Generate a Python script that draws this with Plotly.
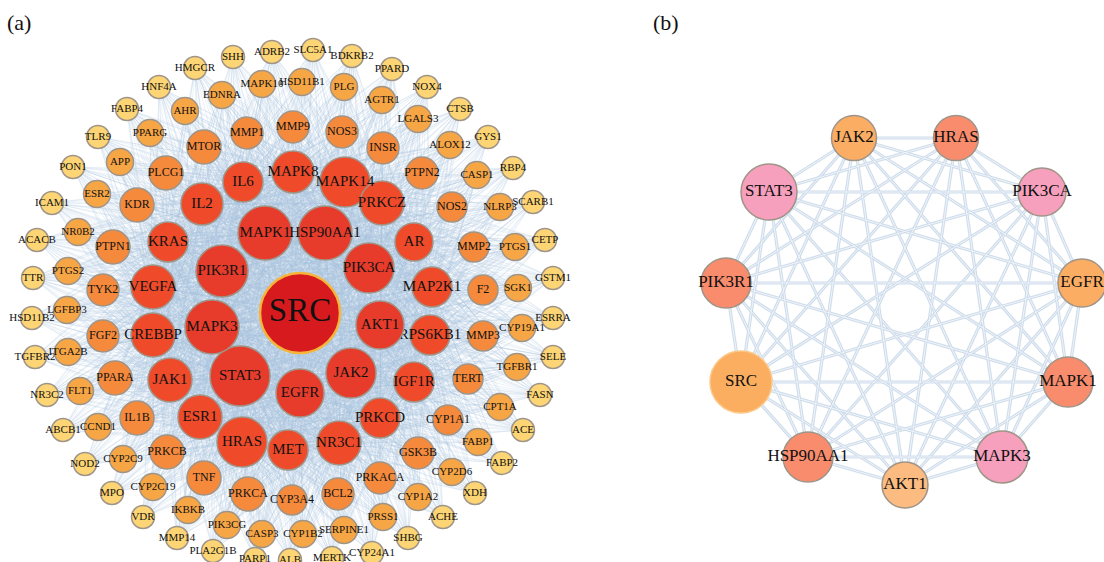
import itertools
import plotly.graph_objects as go

# ---------------- Panel (a) data: node name, layout x, layout y, node score ----------------
ring0_names = ["SRC"]
ring0_x = [300]
ring0_y = [313]
ring0_score = [80]

ring1_names = ["MAPK1", "HSP90AA1", "PIK3CA", "AKT1", "JAK2", "EGFR", "STAT3", "MAPK3", "PIK3R1"]
ring1_x = [265, 325, 369, 380, 351, 300, 240, 212, 222]
ring1_y = [233, 233, 268, 325, 373, 393, 376, 327, 271]
ring1_score = [54, 54, 50, 48, 50, 48, 60, 54, 52]

ring2_names = ["IL6", "MAPK8", "MAPK14", "PRKCZ", "AR", "MAP2K1", "RPS6KB1", "IGF1R", "PRKCD",
               "NR3C1", "MET", "HRAS", "ESR1", "JAK1", "CREBBP", "VEGFA", "KRAS", "IL2"]
ring2_x = [243, 293, 345, 382, 414, 432, 430, 414, 380, 339, 288, 242, 200, 170, 153, 153, 168, 202]
ring2_y = [182, 172, 182, 203, 242, 287, 335, 382, 418, 443, 450, 442, 417, 380, 335, 287, 242, 204]
ring2_score = [40, 42, 50, 44, 38, 40, 40, 40, 40, 44, 40, 50, 44, 44, 44, 44, 40, 42]

ring3_names = ["MTOR", "MMP1", "MMP9", "NOS3", "INSR", "PTPN2", "NOS2", "MMP2", "F2", "MMP3", "TERT",
               "CYP1A1", "GSK3B", "PRKACA", "BCL2", "CYP3A4", "PRKCA", "TNF", "PRKCB", "IL1B",
               "PPARA", "FGF2", "TYK2", "PTPN1", "KDR", "PLCG1"]
ring3_x = [204, 247, 293, 342, 383, 422, 452, 474, 483, 483, 468, 448, 418, 380, 338, 292, 248, 204,
           167, 137, 115, 103, 103, 113, 137, 166]
ring3_y = [147, 133, 127, 132, 148, 173, 207, 247, 290, 336, 379, 420, 453, 478, 494, 500, 494, 478,
           452, 418, 378, 336, 290, 247, 205, 173]
ring3_score = [34, 32, 32, 32, 32, 32, 30, 30, 30, 30, 30, 30, 32, 32, 32, 30, 34, 34, 34, 34, 34, 32,
               32, 34, 34, 34]

ring4_names = ["AHR", "EDNRA", "MAPK10", "HSD11B1", "PLG", "AGTR1", "LGALS3", "ALOX12", "CASP1",
               "NLRP3", "PTGS1", "SGK1", "CYP19A1", "TGFBR1", "CPT1A", "FABP1", "CYP2D6", "CYP1A2",
               "PRSS1", "SERPINE1", "CYP1B2", "CASP3", "PIK3CG", "IKBKB", "CYP2C19", "CYP2C9",
               "CCND1", "FLT1", "ITGA2B", "LGFBP3", "PTGS2", "NR0B2", "ESR2", "APP", "PPARG"]
ring4_x = [185, 222, 262, 302, 344, 382, 418, 450, 477, 500, 515, 518, 522, 517, 500, 478, 452, 418,
           383, 344, 303, 262, 227, 188, 153, 123, 98, 80, 68, 67, 68, 78, 97, 120, 150]
ring4_y = [111, 95, 84, 82, 87, 100, 119, 145, 175, 207, 247, 288, 328, 367, 407, 442, 472, 497,
           517, 530, 534, 534, 525, 510, 487, 459, 427, 391, 352, 310, 271, 232, 194, 162, 133]
ring4_score = [27] * len(ring4_names)

ring5_names = ["SHH", "ADRB2", "SLC5A1", "BDKRB2", "PPARD", "NOX4", "CTSB", "GYS1", "RBP4", "SCARB1",
               "CETP", "GSTM1", "ESRRA", "SELE", "FASN", "ACE", "FABP2", "XDH", "ACHE", "SHBG",
               "CYP24A1", "MERTK", "ALB", "PARP1", "PLA2G1B", "MMP14", "VDR", "MPO", "NOD2", "ABCB1",
               "NR3C2", "TGFBR2", "HSD11B2", "TTR", "ACACB", "ICAM1", "PON1", "TLR9", "FABP4",
               "HNF4A", "HMGCR"]
ring5_x = [233, 272, 313, 352, 392, 427, 460, 488, 513, 533, 545, 553, 553, 553, 540, 523, 502, 475,
           443, 408, 372, 332, 290, 255, 213, 177, 143, 112, 85, 63, 47, 35, 32, 33, 37, 52, 73, 98,
           127, 159, 195]
ring5_y = [57, 52, 50, 56, 69, 87, 109, 137, 168, 202, 240, 278, 318, 357, 395, 430, 463, 493, 517,
           538, 553, 558, 560, 559, 551, 538, 517, 493, 464, 430, 395, 357, 318, 278, 240, 203, 167,
           137, 109, 87, 68]
ring5_score = [23] * len(ring5_names)

# ---------------- Panel (b) data ----------------
b_names = ["JAK2", "HRAS", "PIK3CA", "EGFR", "MAPK1", "MAPK3", "AKT1", "HSP90AA1", "SRC", "PIK3R1", "STAT3"]
b_x = [854, 956, 1042, 1082, 1068, 1002, 905, 808, 741, 726, 769]
b_y = [138, 138, 192, 283, 382, 457, 485, 457, 382, 283, 192]
b_score = [45, 45, 48, 48, 50, 52, 46, 50, 62, 50, 56]
b_group = ["orange", "salmon", "pink", "orange", "salmon", "pink", "light", "salmon", "src", "salmon", "pink"]

# ---------------- styles ----------------
ring_colors = ["#d71a1d", "#e73c2c", "#ef4b2b", "#f58a3c", "#f7a646", "#fdd574"]
ring_fonts = [33, 15, 15, 12, 11, 11]
border_col = "#9f9488"
serif = "Liberation Serif"
b_colors = {"orange": "#fbad64", "salmon": "#f98c6c", "pink": "#f7a0bd", "light": "#fcbb80", "src": "#fbae60"}

rings = [
    (ring0_names, ring0_x, ring0_y, ring0_score),
    (ring1_names, ring1_x, ring1_y, ring1_score),
    (ring2_names, ring2_x, ring2_y, ring2_score),
    (ring3_names, ring3_x, ring3_y, ring3_score),
    (ring4_names, ring4_x, ring4_y, ring4_score),
    (ring5_names, ring5_x, ring5_y, ring5_score),
]

fig = go.Figure()

# ---- panel (a) edges: every node linked to the hub nodes (rings 0-2) ----
hubs, others = [], []
for i, (n, xs, ys, s) in enumerate(rings):
    for k in range(len(n)):
        (hubs if i <= 2 else others).append((xs[k], ys[k]))
ex, ey = [], []
for (x0, y0) in others:
    for (x1, y1) in hubs:
        ex += [x0, x1, None]
        ey += [y0, y1, None]
for (a, b) in itertools.combinations(hubs, 2):
    ex += [a[0], b[0], None]
    ey += [a[1], b[1], None]
fig.add_trace(go.Scatter(x=ex, y=ey, mode="lines", hoverinfo="skip",
                         line=dict(color="rgba(168,194,224,0.22)", width=1)))

# ---- panel (a) nodes, outer rings first ----
for i in range(len(rings) - 1, -1, -1):
    n, xs, ys, s = rings[i]
    fig.add_trace(go.Scatter(
        x=xs, y=ys, mode="markers+text", text=n, textposition="middle center",
        textfont=dict(family=serif, size=ring_fonts[i], color="#111111"),
        marker=dict(size=s, color=ring_colors[i], opacity=1,
                    line=dict(color="#f6b53a" if i == 0 else border_col, width=2.5 if i == 0 else 1.5)),
        hoverinfo="text", cliponaxis=False))

# ---- panel (b) edges: complete graph, doubled thin lines ----
bx, by = [], []
for i, j in itertools.combinations(range(len(b_names)), 2):
    bx += [b_x[i], b_x[j], None]
    by += [b_y[i], b_y[j], None]
fig.add_trace(go.Scatter(x=bx, y=by, mode="lines", hoverinfo="skip",
                         line=dict(color="rgba(200,215,232,0.85)", width=3.2)))
fig.add_trace(go.Scatter(x=bx, y=by, mode="lines", hoverinfo="skip",
                         line=dict(color="rgba(242,246,251,0.9)", width=1.0)))

fig.add_trace(go.Scatter(
    x=b_x, y=b_y, mode="markers+text", text=b_names, textposition="middle center",
    textfont=dict(family=serif, size=17, color="#111111"),
    marker=dict(size=b_score, color=[b_colors[g] for g in b_group], opacity=1,
                line=dict(color=["#fbc98a" if g == "src" else border_col for g in b_group], width=1.5)),
    hoverinfo="text", cliponaxis=False))

fig.add_annotation(text="(a)", x=19, y=22, xref="x", yref="y", showarrow=False,
                   xanchor="center", yanchor="middle",
                   font=dict(family=serif, size=22, color="#111111"))
fig.add_annotation(text="(b)", x=666, y=22, xref="x", yref="y", showarrow=False,
                   xanchor="center", yanchor="middle",
                   font=dict(family=serif, size=22, color="#111111"))

fig.update_layout(
    width=1104, height=562, margin=dict(l=0, r=0, t=0, b=0),
    paper_bgcolor="white", plot_bgcolor="white", showlegend=False,
    xaxis=dict(range=[0, 1104], visible=False, fixedrange=True),
    yaxis=dict(range=[562, 0], visible=False, fixedrange=True),
)
fig.write_html("out.html", config={"displayModeBar": False},
               post_script="document.body.style.margin='0';document.body.style.overflow='hidden';")
